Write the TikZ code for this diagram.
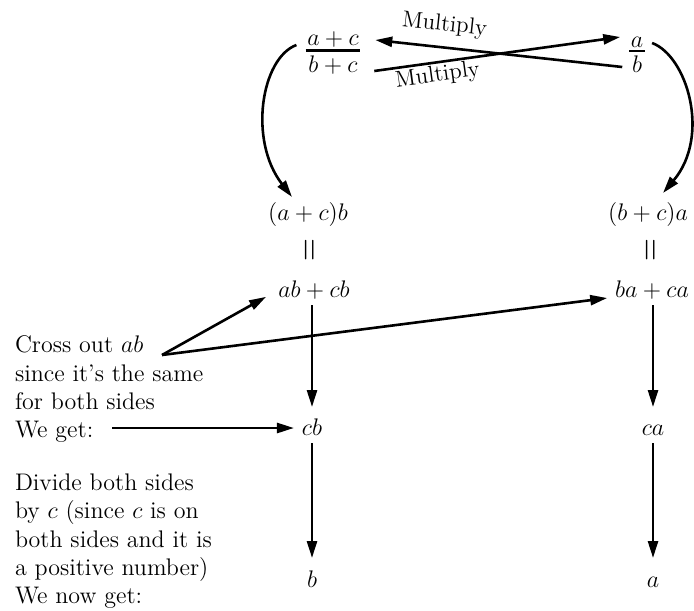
\documentclass[tikz,border=0pt]{standalone}
\usepackage{graphicx}
\usetikzlibrary{arrows.meta}
\newcommand\myfrac[2]{$\vcenter{\offinterlineskip\halign{\hfil\kern0.8pt##\kern0.8pt\hfil\cr$#1$\cr\noalign{\kern1pt\hrule height1.3pt\kern2pt}$#2$\cr}}$}
\newcommand\vereq{\rotatebox{90}{\scalebox{1.25}[1.6]{$=$}}}
\begin{document}
\begin{tikzpicture}[x=0.5pt,y=-0.5pt,
  font=\fontsize{12}{14.15}\selectfont,
  lbl/.style={inner sep=0pt,outer sep=0pt},
  txt/.style={lbl,anchor=base west,text height=8pt,text depth=2pt},
  mth/.style={lbl,anchor=base,text height=8pt,text depth=1pt},
  arr/.style={line width=1.3pt,-{Triangle[length=8.5pt,width=5pt]}},
  mul/.style={lbl,sloped,font=\fontsize{11.5}{14}\selectfont}]
\useasboundingbox (0,0) rectangle (694,610);
% fractions
\node[lbl] (fl) at (333,53) {\myfrac{a+c}{b+c}};
\node[lbl] (fr) at (637,55) {\myfrac{a}{b}};
% products
\node[mth] (acb) at (308,220) {$(a+c)b$};
\node[mth] (bca) at (648,220) {$(b+c)a$};
\node[lbl] (eql) at (312,250) {\vereq};
\node[lbl] (eqr) at (653,250) {\vereq};
\node[mth] (abcb) at (314,297) {$ab+cb$};
\node[mth] (baca) at (652,297) {$ba+ca$};
\node[mth] (cb) at (312,435) {$cb$};
\node[mth] (ca) at (653,435) {$ca$};
\node[mth] (b) at (312,587) {$b$};
\node[mth] (a) at (653,587) {$a$};
% text
\node[txt] (t1) at (15,352) {Cross out $ab$};
\node[txt] (t2) at (15,381) {since it’s the same};
\node[txt] (t3) at (15,409) {for both sides};
\node[txt] (t4) at (15,437) {We get:};
\node[txt] (u1) at (15,490) {Divide both sides};
\node[txt] (u2) at (15,518) {by $c$ (since $c$ is on};
\node[txt] (u3) at (15,547) {both sides and it is};
\node[txt] (u4) at (15,575) {a positive number)};
\node[txt] (u5) at (15,603) {We now get:};
\coordinate (co) at (162,355);
% cross arrows
\draw[arr] ([xshift=-3.5pt,yshift=-6pt]fr.west) -- ([xshift=7.5pt,yshift=6.5pt]fl.east)
  node[mul,pos=0.73,above=6pt] (m1) {Multiply};
\draw[arr] ([xshift=7pt,yshift=-9pt]fl.east) -- ([xshift=-4.5pt,yshift=9pt]fr.west)
  node[mul,pos=0.25,below=1.5pt] (m2) {Multiply};
% curved arrows
\draw[arr] ([xshift=-4.65pt,yshift=4pt]fl.west) .. controls +(-35,13) and +(-44,-57) .. ([xshift=-8pt,yshift=3.5pt]acb.north);
\draw[arr] ([xshift=3.65pt,yshift=6pt]fr.east) .. controls +(35,13) and +(48,-57) .. ([xshift=7.5pt,yshift=5.5pt]bca.north);
% cross out arrows
\draw[arr,shorten >=7pt] (co) -- (abcb.west);
\draw[arr,shorten >=4pt] (co) -- (baca.base west);
% we get
\draw[arr,shorten <=9.5pt,shorten >=4pt] ([yshift=1.5pt]t4.east) -- ([yshift=1.5pt]t4.east -| cb.west);
% verticals
\draw[arr,shorten <=3pt,shorten >=6pt] (abcb.south -| cb) -- (cb.north);
\draw[arr,shorten <=3pt,shorten >=6.5pt] (cb.south) -- (cb.south |- b.north);
\draw[arr,shorten <=3pt,shorten >=6pt] (baca.south -| ca) -- (ca.north);
\draw[arr,shorten <=3pt,shorten >=6.5pt] (ca.south) -- (ca.south |- a.north);
\end{tikzpicture}
\end{document}
